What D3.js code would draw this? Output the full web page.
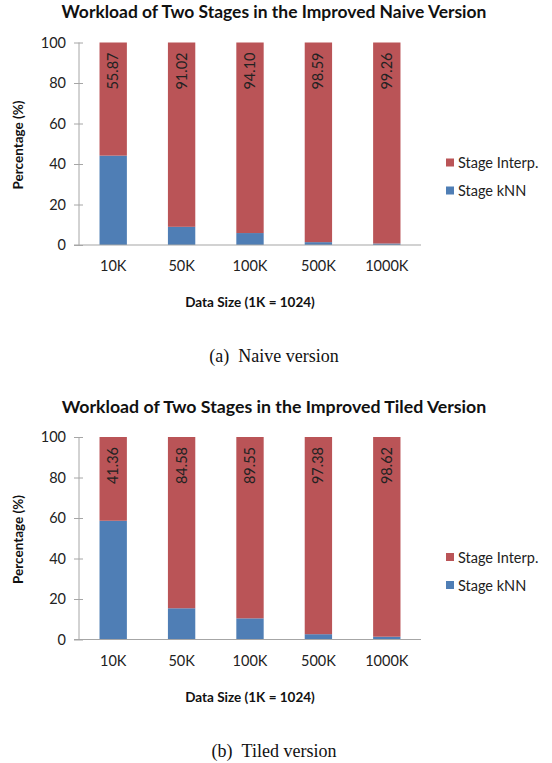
<!DOCTYPE html>
<html><head><meta charset="utf-8">
<script src="https://cdn.jsdelivr.net/npm/d3@7"></script>
<style>body{margin:0;background:#fff}</style>
</head><body>
<svg id="c" width="552" height="763"></svg>
<script>
const categories = ["10K","50K","100K","500K","1000K"];
const naiveInterp = [55.87, 91.02, 94.10, 98.59, 99.26];
const naiveKnn = [44.13, 8.98, 5.90, 1.41, 0.74];
const tiledInterp = [41.36, 84.58, 89.55, 97.38, 98.62];
const tiledKnn = [58.64, 15.42, 10.45, 2.62, 1.38];
const yTicks = [0, 20, 40, 60, 80, 100];
const seriesNames = ["Stage Interp.", "Stage kNN"];
const titles = ["Workload of Two Stages in the Improved Naive Version",
                "Workload of Two Stages in the Improved Tiled Version"];
const captions = ["(a)\u2002Naive version", "(b)\u2002Tiled version"];
const xTitle = "Data Size (1K = 1024)";
const yTitle = "Percentage (%)";

const RED = "#BA5457", BLUE = "#4F7EB5", AXIS = "#A6A6A6";
const FONT = "Lato, 'Open Sans', sans-serif";
const svg = d3.select("#c");

function fitText(sel, w) {
  const len = sel.node().getComputedTextLength();
  const fs = parseFloat(sel.attr("font-size"));
  sel.attr("font-size", fs * w / len);
}

function drawChart(i, interp, knn) {
  const oy = i * 394.5;
  const g = svg.append("g").attr("transform", `translate(0,${oy})`);
  const x = d3.scaleBand().domain(categories).range([79, 421]).paddingInner(0.6).paddingOuter(0.3);
  const y = d3.scaleLinear().domain([0, 100]).range([245, 42.5]);

  // title
  const t = g.append("text").attr("x", 274).attr("y", 18).attr("text-anchor", "middle")
    .attr("font-family", FONT).attr("font-weight", "bold").attr("font-size", 14).attr("fill", "#111")
    .text(titles[i]);
  fitText(t, 425);

  // y axis
  const ya = g.append("g").attr("transform", "translate(79,0)")
    .call(d3.axisLeft(y).tickValues(yTicks).tickSize(5).tickPadding(8));
  ya.select(".domain").attr("stroke", AXIS).attr("d", `M0,${y(100)}V${y(0)}`);
  ya.selectAll(".tick line").attr("stroke", AXIS).attr("x1", 4).attr("x2", -5);
  ya.selectAll(".tick text").attr("font-family", FONT).attr("font-size", 14.5).attr("fill", "#222");

  // bars
  const kg = g.append("g");
  kg.selectAll("rect.k").data(categories).join("rect")
    .attr("x", d => x(d)).attr("width", x.bandwidth())
    .attr("y", (d, j) => y(knn[j])).attr("height", (d, j) => y(0) - y(knn[j]))
    .attr("fill", BLUE);
  kg.selectAll("rect.r").data(categories).join("rect")
    .attr("x", d => x(d)).attr("width", x.bandwidth())
    .attr("y", (d, j) => y(knn[j] + interp[j])).attr("height", (d, j) => y(knn[j]) - y(knn[j] + interp[j]))
    .attr("fill", RED);

  // data labels (rotated, reading bottom to top, near the top of each bar)
  g.selectAll("text.lbl").data(categories).join("text")
    .attr("transform", (d, j) => `translate(${x(d) + x.bandwidth() / 2},${y(100) + 10}) rotate(-90)`)
    .attr("text-anchor", "end").attr("dy", "0.35em")
    .attr("font-family", FONT).attr("font-size", 14.5).attr("fill", "#222")
    .text((d, j) => interp[j].toFixed(2));

  // x axis
  const xa = g.append("g").attr("transform", `translate(0,${y(0)})`)
    .call(d3.axisBottom(x).tickSize(0).tickPadding(16));
  xa.select(".domain").attr("stroke", AXIS).attr("stroke-width", 1.2).attr("d", `M74,0H421`);
  xa.selectAll(".tick text").attr("font-family", FONT).attr("font-size", 14.5).attr("fill", "#222");

  // axis titles
  g.append("text").attr("x", 250).attr("y", 307).attr("text-anchor", "middle")
    .attr("font-family", FONT).attr("font-weight", "bold").attr("font-size", 13.5).attr("fill", "#111")
    .text(xTitle);
  g.append("text").attr("transform", "translate(23,145) rotate(-90)").attr("text-anchor", "middle")
    .attr("font-family", FONT).attr("font-weight", "bold").attr("font-size", 13.5).attr("fill", "#111")
    .text(yTitle);

  // legend
  const ly = [163, 191];
  const cols = [RED, BLUE];
  seriesNames.forEach((n, k) => {
    g.append("rect").attr("x", 446).attr("y", ly[k] - 4.5).attr("width", 8).attr("height", 8).attr("fill", cols[k]);
    g.append("text").attr("x", 458).attr("y", ly[k]).attr("dy", "0.35em")
      .attr("font-family", FONT).attr("font-size", 14.5).attr("fill", "#222").text(n);
  });

  // caption
  g.append("text").attr("x", 274).attr("y", 362).attr("text-anchor", "middle")
    .attr("font-family", "'Liberation Serif', 'Times New Roman', serif").attr("font-size", 18).attr("fill", "#111")
    .text(captions[i]);
}

drawChart(0, naiveInterp, naiveKnn);
drawChart(1, tiledInterp, tiledKnn);
</script>
</body></html>
